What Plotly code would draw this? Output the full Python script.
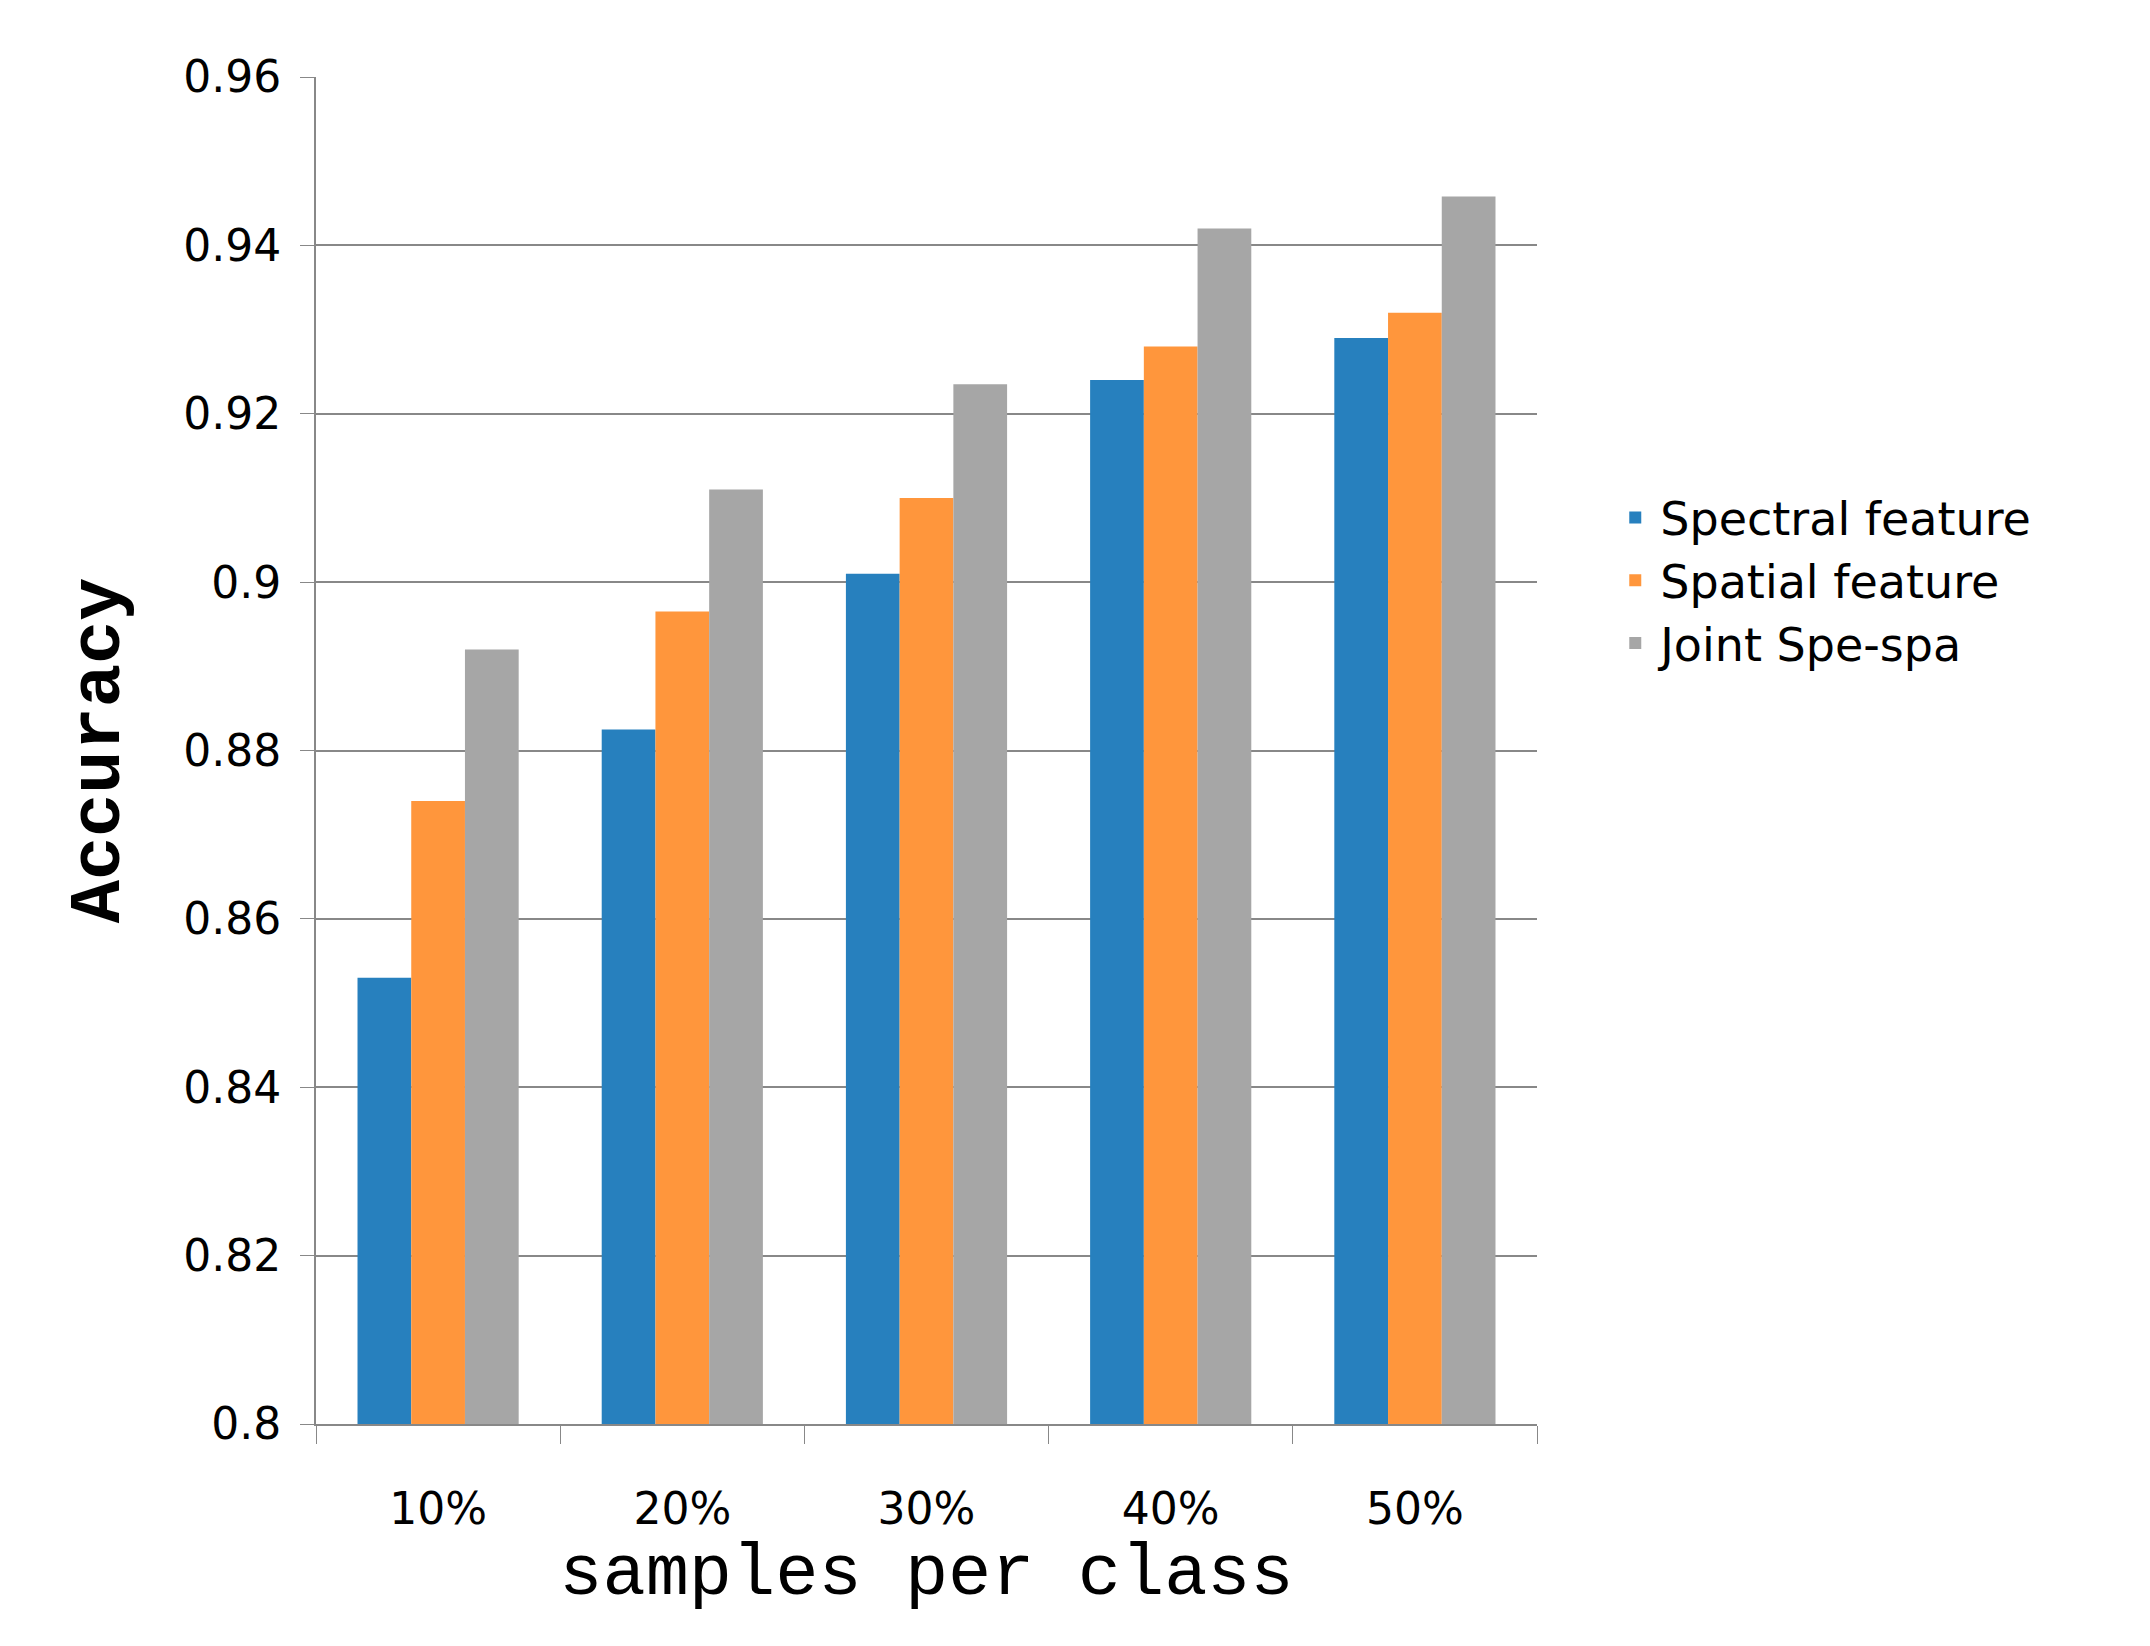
import plotly.graph_objects as go

categories = ["10%", "20%", "30%", "40%", "50%"]
spectral = [0.853, 0.8825, 0.901, 0.924, 0.929]
spatial = [0.874, 0.8965, 0.910, 0.928, 0.932]
joint = [0.892, 0.911, 0.9235, 0.942, 0.9458]
series_names = ["Spectral feature", "Spatial feature", "Joint Spe-spa"]
colors = ["#2780BE", "#FF963C", "#A6A6A6"]

fig = go.Figure()
for i, (name, vals, c) in enumerate(zip(series_names, [spectral, spatial, joint], colors)):
    fig.add_trace(go.Bar(x=categories, y=vals, name=name, marker_color=c, marker_line_width=0,
                         legendgroup=f"g{i}"))

fig.update_layout(
    width=2150, height=1646, paper_bgcolor="white", plot_bgcolor="white",
    barmode="group", bargap=0.34, bargroupgap=0,
    margin=dict(l=308, r=621, t=69, b=230),
    font=dict(family="DejaVu Sans", color="black"),
    legend=dict(x=1.06, y=0.70, xanchor="left", yanchor="top",
                font=dict(size=46, family="DejaVu Sans"), tracegroupgap=140,
                traceorder="normal", itemwidth=40),
    xaxis=dict(tickfont=dict(size=44), showline=True, linecolor="#888", linewidth=2,
               ticks="outside", tickson="boundaries", ticklen=18, tickcolor="#888",
               ticklabelstandoff=45,
               title=dict(text="samples per class", font=dict(size=72, family="Liberation Mono"), standoff=5)),
    yaxis=dict(range=[0.8, 0.96], dtick=0.02, tickformat="~g", tickfont=dict(size=44),
               showgrid=True, gridcolor="#888", gridwidth=2, showline=True, linecolor="#888", linewidth=2,
               ticks="outside", ticklen=14, tickcolor="#888", zeroline=False, ticklabelstandoff=10,
               title=dict(text="<b>Accuracy</b>", font=dict(size=72, family="Liberation Mono"), standoff=40)),
)
fig.write_html("out.html")
